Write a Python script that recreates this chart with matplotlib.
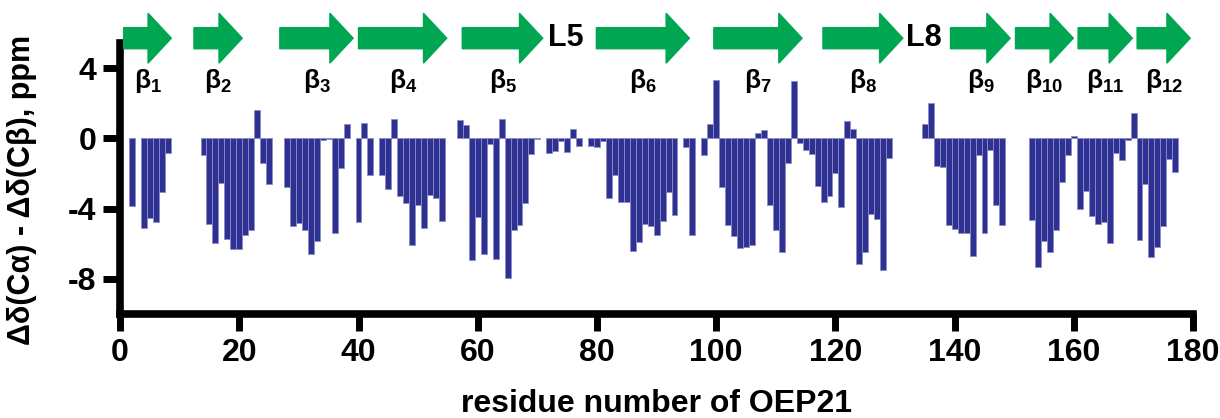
import numpy as np
import matplotlib
matplotlib.use("Agg")
import matplotlib.pyplot as plt
from matplotlib.patches import Polygon

plt.rcParams['font.family'] = ['Liberation Sans', 'DejaVu Sans']
plt.rcParams['font.weight'] = 'bold'
plt.rcParams['axes.unicode_minus'] = False
plt.rcParams['mathtext.fontset'] = 'custom'
plt.rcParams['mathtext.rm'] = 'Liberation Sans:bold'
plt.rcParams['mathtext.it'] = 'Liberation Sans:bold'
plt.rcParams['mathtext.bf'] = 'Liberation Sans:bold'

# residue numbers and secondary chemical shift (ppm)
residues = [2, 4, 5, 6, 7, 8,
            14, 15, 16, 17, 18, 19, 20, 21, 22, 23, 24, 25,
            28, 29, 30, 31, 32, 33, 34, 35, 36, 37, 38,
            40, 41, 42, 44, 45, 46, 47, 48, 49, 50, 51, 52, 53, 54,
            57, 58, 59, 60, 61, 62, 63, 64, 65, 66, 67, 68, 69, 70,
            72, 73, 74, 75, 76, 77, 79, 80, 81, 82, 83, 84, 85, 86, 87,
            88, 89, 90, 91, 92, 93, 95, 96, 98, 99, 100, 101, 102, 103,
            104, 105, 106, 107, 108, 109, 110, 111, 112, 113, 114, 115,
            116, 117, 118, 119, 120, 121, 122, 123, 124, 125, 126, 127,
            128, 129,
            135, 136, 137, 138, 139, 140, 141, 142, 143, 144, 145, 146,
            147, 148,
            153, 154, 155, 156, 157, 158, 159, 160, 161, 162, 163, 164,
            165, 166, 167, 168, 169, 170, 171, 172, 173, 174, 175, 176, 177]
shifts = [-3.85, -5.13, -4.51, -4.74, -3.05, -0.85,
          -0.97, -4.9, -5.99, -2.52, -5.74, -6.33, -6.33, -5.51, -5.2, 1.59, -1.38, -2.58,
          -2.76, -5.02, -4.83, -5.2, -6.57, -5.87, -0.08, -0.05, -5.38, -1.69, 0.81,
          -4.79, 0.89, -2.1, -2.1, -2.88, 1.12, -3.3, -3.66, -6.08, -3.77, -5.13, -3.24, -3.41, -4.72,
          1.06, 0.74, -6.93, -4.47, -6.61, -0.3, -6.87, 1.12, -7.95, -5.2, -4.96, -3.66, -0.91, -0.06,
          -0.83, -0.74, -0.15, -0.78, 0.55, -0.42, -0.42, -0.49, -0.15, -3.41, -2.1, -3.64, -3.64, -6.4, -5.91,
          -4.9, -5.0, -5.49, -4.73, -3.05, -4.36, -0.49, -5.49, -0.97, 0.8, 3.31, -2.8, -4.94, -5.55,
          -6.27, -6.21, -6.08, 0.32, 0.45, -3.77, -5.21, -6.5, -1.38, 3.26, -0.28, -0.66,
          -0.91, -2.69, -3.64, -3.3, -1.97, -3.94, 0.98, 0.55, -7.16, -6.5, -4.3, -4.6,
          -7.52, -1.14,
          0.8, 2.0, -1.55, -1.61, -4.94, -5.19, -5.42, -5.38, -6.69, -0.97, -5.38, -0.66,
          -3.77, -4.94,
          -4.66, -7.35, -5.85, -6.46, -5.21, -2.46, -0.97, 0.15, -4.02, -3.01, -4.43, -4.9,
          -4.74, -5.99, -0.85, -1.25, -0.11, 1.46, -5.81, -2.58, -6.76, -6.21, -5.02, -1.19, -1.91]

# beta strands (start, end residue)
strand_start = [0.6, 12.4, 26.8, 40.0, 57.4, 79.9, 99.6, 117.9, 139.3, 150.2, 160.7, 170.6]
strand_end = [8.6, 20.5, 39.1, 54.8, 70.9, 95.5, 114.4, 131.3, 149.3, 159.9, 169.8, 179.5]
loop_labels = ['L5', 'L8']
loop_pos = [74.8, 134.9]

fig = plt.figure(figsize=(12.2, 4.18), dpi=100)
ax = fig.add_axes([0.0984, 0.249, 0.8796, 0.647])

ax.bar(residues, shifts, width=1.0, color='#2e3192', edgecolor='#8c8cc8', linewidth=0.6)

# strand arrows above the plot
yc = 5.7
body = 0.6
head = 1.42
head_len = 3.9
for i in range(len(strand_start)):
    x0, x1 = strand_start[i], strand_end[i]
    xh = x1 - head_len
    pts = [(x0, yc - body), (xh, yc - body), (xh, yc - head), (x1, yc),
           (xh, yc + head), (xh, yc + body), (x0, yc + body)]
    ax.add_patch(Polygon(pts, closed=True, color='#00a651', clip_on=False, zorder=3))
    ax.text((x0 + x1) / 2, 3.25, r'$\beta_{%d}$' % (i + 1), ha='center', va='center',
            fontsize=19, clip_on=False)

for lab, xp in zip(loop_labels, loop_pos):
    ax.text(xp, yc, lab, ha='center', va='center', fontsize=22, fontweight='bold')

ax.set_xlim(0, 180)
ax.set_ylim(-10, 5.4)
ax.set_xticks(np.arange(0, 181, 20))
ax.set_yticks([4, 0, -4, -8])
ax.spines['top'].set_visible(False)
ax.spines['right'].set_visible(False)
ax.spines['left'].set_linewidth(5.5)
ax.spines['bottom'].set_linewidth(5.5)
ax.tick_params(width=5, length=12, labelsize=23, pad=5)
for lab in ax.get_xticklabels() + ax.get_yticklabels():
    lab.set_fontweight('bold')

ax.set_xlabel('residue number of OEP21', fontsize=23, fontweight='bold')
ax.set_ylabel('Δδ(Cα) - Δδ(Cβ), ppm', fontsize=22, fontweight='bold')
ax.xaxis.set_label_coords(0.5, -0.276)
ax.yaxis.set_label_coords(-0.077, 0.46)

fig.savefig('out.png', dpi=100)
